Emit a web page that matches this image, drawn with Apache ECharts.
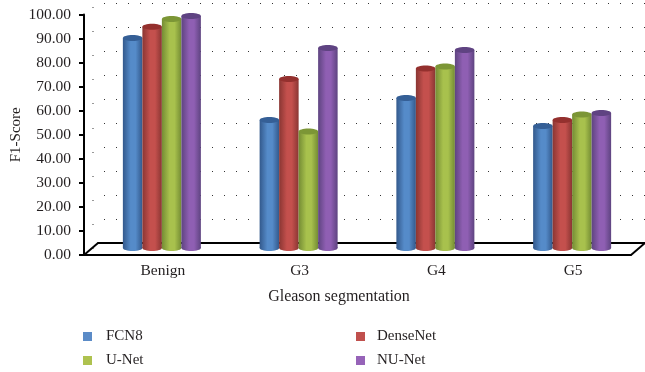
<!DOCTYPE html>
<html>
<head>
<meta charset="utf-8">
<style>
  html, body { margin: 0; padding: 0; background: #fff; }
  #chart { width: 645px; height: 372px; }
</style>
<script src="https://cdn.jsdelivr.net/npm/echarts@6/dist/echarts.min.js"></script>
</head>
<body>
<div id="chart"></div>
<script>
// data
const categories = ['Benign', 'G3', 'G4', 'G5'];
const fcn8 = [87.3, 53.2, 62.4, 50.7];
const denseNet = [92, 70.3, 74.6, 53.2];
const uNet = [95.2, 48.4, 75.5, 55.5];
const nuNet = [96.5, 83.2, 82.3, 56.1];
const yTicks = { min: 0, max: 100, interval: 10 };

const FONT = '"Liberation Serif", serif';
const TEXT = '#231f20';

// 3D look of the original: bars stand on the floor, behind the front axis
const SHIFT_X = 9.5;
const SHIFT_Y = -7;
const BAR_SHARE = 0.1426;
const CAP_RY = 3;

const looks = [
  { name: 'FCN8', data: fcn8, legend: '#5b8bc7', edge: '#33598c', light: '#558bc9', cap: '#355f96' },
  { name: 'DenseNet', data: denseNet, legend: '#c0504d', edge: '#8a3633', light: '#c4504d', cap: '#94302e' },
  { name: 'U-Net', data: uNet, legend: '#aec24f', edge: '#748c34', light: '#a8c14d', cap: '#7c9636' },
  { name: 'NU-Net', data: nuNet, legend: '#9663b8', edge: '#5e4480', light: '#8f5fb3', cap: '#5f4382' }
];

function cylinder(look, index) {
  return function (params, api) {
    const base = api.coord([api.value(0), 0]);
    const top = api.coord([api.value(0), api.value(1)]);
    const band = api.size([1, 0])[0];
    const w = band * BAR_SHARE;
    const cx = base[0] + SHIFT_X + (index - 1.5) * w;
    const yTop = top[1] + SHIFT_Y;
    const yBottom = base[1] + SHIFT_Y;
    const fill = new echarts.graphic.LinearGradient(0, 0, 1, 0, [
      { offset: 0, color: look.edge },
      { offset: 0.4, color: look.light },
      { offset: 0.65, color: look.light },
      { offset: 1, color: look.edge }
    ]);
    return {
      type: 'group',
      children: [
        { type: 'ellipse', shape: { cx: cx, cy: yBottom, rx: w / 2, ry: CAP_RY }, style: { fill: fill } },
        { type: 'rect', shape: { x: cx - w / 2, y: yTop, width: w, height: yBottom - yTop }, style: { fill: fill } },
        { type: 'ellipse', shape: { cx: cx, cy: yTop, rx: w / 2, ry: CAP_RY }, style: { fill: look.cap } }
      ]
    };
  };
}

const series = looks.map(function (look, i) {
  return {
    name: look.name,
    type: 'custom',
    xAxisIndex: 0,
    yAxisIndex: 0,
    z: 5,
    itemStyle: { color: look.legend },
    encode: { x: 0, y: 1 },
    data: look.data.map(function (v, j) { return [j, v]; }),
    renderItem: cylinder(look, i)
  };
});

const legendBase = {
  orient: 'vertical',
  icon: 'rect',
  itemWidth: 9,
  itemHeight: 9,
  itemGap: 9,
  padding: 0,
  height: 60
};

const chart = echarts.init(document.getElementById('chart'), null, { renderer: 'canvas' });
chart.setOption({
  animation: false,
  backgroundColor: '#fff',
  grid: [
    // front axes
    { left: 84, right: 14, top: 14.5, bottom: 117, outerBoundsMode: 'none' },
    // back wall
    { left: 98, right: 0, top: 3, bottom: 129, outerBoundsMode: 'none' },
    // side wall dots
    { left: 92.5, width: 1, top: 7.5, bottom: 124, outerBoundsMode: 'none' }
  ],
  legend: [
    Object.assign({}, legendBase, {
      left: 83, top: 329, data: ['FCN8', 'U-Net'],
      textStyle: { fontFamily: FONT, fontSize: 15, color: TEXT, padding: [0, 0, 0, 9] }
    }),
    Object.assign({}, legendBase, {
      left: 356, top: 329, data: ['DenseNet', 'NU-Net'],
      textStyle: { fontFamily: FONT, fontSize: 15, color: TEXT, padding: [0, 0, 0, 7] }
    })
  ],
  xAxis: [
    {
      type: 'category',
      gridIndex: 0,
      data: categories,
      name: 'Gleason segmentation',
      nameLocation: 'middle',
      nameGap: 34,
      nameTextStyle: { fontFamily: FONT, fontSize: 16, color: TEXT, padding: [0, 37, 0, 0] },
      axisLine: { onZero: false, lineStyle: { color: '#000', width: 2 } },
      axisTick: { show: false },
      axisLabel: { fontFamily: FONT, fontSize: 15.5, color: TEXT, margin: 8, padding: [0, 0, 0, 21] }
    },
    {
      type: 'value',
      gridIndex: 1,
      min: 0,
      max: 1,
      axisLine: { onZero: false, lineStyle: { color: '#000', width: 2 } },
      axisTick: { show: false },
      axisLabel: { show: false },
      splitLine: { show: false }
    },
    { type: 'value', gridIndex: 2, min: 0, max: 1, show: false }
  ],
  yAxis: [
    {
      type: 'value',
      gridIndex: 0,
      min: yTicks.min,
      max: yTicks.max,
      interval: yTicks.interval,
      name: 'F1-Score',
      nameLocation: 'middle',
      nameGap: 60,
      nameMoveOverlap: false,
      nameTextStyle: { fontFamily: FONT, fontSize: 15, color: TEXT },
      axisLine: { show: true, lineStyle: { color: '#000', width: 2 } },
      axisTick: { show: true, length: 5, lineStyle: { color: '#000', width: 2 } },
      axisLabel: {
        fontFamily: FONT,
        fontSize: 15.5,
        color: TEXT,
        margin: 13,
        formatter: function (v) { return v.toFixed(2); }
      },
      splitLine: { show: false }
    },
    {
      type: 'value',
      gridIndex: 1,
      min: yTicks.min,
      max: yTicks.max,
      interval: yTicks.interval,
      axisLine: { show: false },
      axisTick: { show: false },
      axisLabel: { show: false },
      splitLine: {
        show: true,
        lineStyle: { color: '#333', width: 1, type: [1, 11], dashOffset: 6 }
      }
    },
    {
      type: 'value',
      gridIndex: 2,
      min: yTicks.min,
      max: yTicks.max,
      interval: yTicks.interval,
      axisLine: { show: false },
      axisTick: { show: false },
      axisLabel: { show: false },
      splitLine: { show: true, lineStyle: { color: '#333', width: 1 } }
    }
  ],
  graphic: [
    { type: 'line', z: 4, shape: { x1: 84, y1: 255, x2: 98, y2: 243 }, style: { stroke: '#000', lineWidth: 2 } },
    { type: 'line', z: 4, shape: { x1: 631, y1: 255, x2: 645, y2: 243 }, style: { stroke: '#000', lineWidth: 2 } }
  ],
  series: series
});
</script>
</body>
</html>
